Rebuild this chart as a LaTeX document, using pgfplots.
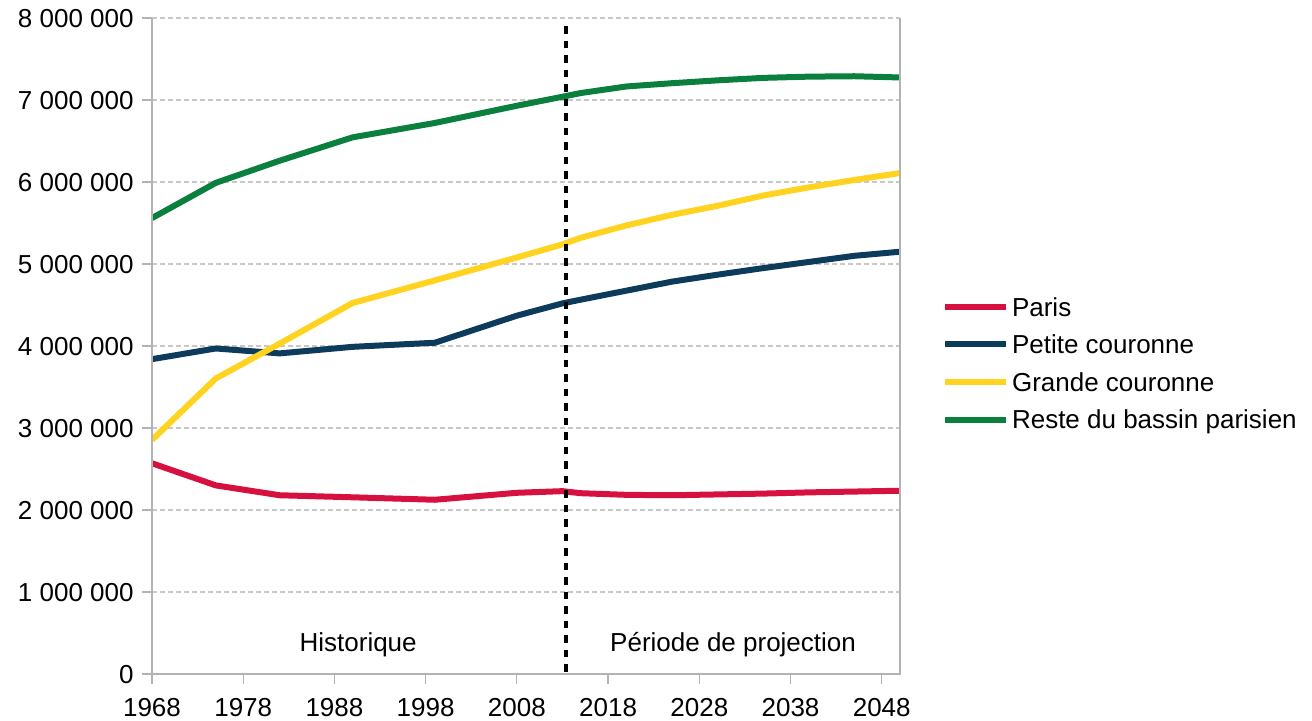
\documentclass[border=0pt]{standalone}
\usepackage{fontspec}
\setmainfont{Liberation Sans}
\usepackage{pgfplots}
\usepackage{pgfplotstable}
\pgfplotsset{compat=1.18}
\definecolor{cParis}{HTML}{D6113F}
\definecolor{cPetite}{HTML}{0D3B5C}
\definecolor{cGrande}{HTML}{FFD320}
\definecolor{cReste}{HTML}{0B7F3E}
\definecolor{cAxis}{HTML}{B3B3B3}
\definecolor{cGrid}{HTML}{C8C8C8}

\pgfplotstableread{
year value
1968 2570000
1975 2300000
1982 2180000
1990 2155000
1999 2125000
2008 2210000
2013 2230000
2015 2205000
2020 2185000
2025 2180000
2030 2190000
2035 2200000
2040 2215000
2045 2225000
2050 2235000
}\paris
\pgfplotstableread{
year value
1968 3840000
1975 3970000
1982 3910000
1990 3990000
1999 4040000
2008 4370000
2013 4520000
2015 4565000
2020 4675000
2025 4785000
2030 4870000
2035 4950000
2040 5025000
2045 5100000
2050 5150000
}\petite
\pgfplotstableread{
year value
1968 2855000
1975 3605000
1982 4030000
1990 4525000
1999 4800000
2008 5080000
2013 5240000
2015 5320000
2020 5470000
2025 5600000
2030 5710000
2035 5835000
2040 5935000
2045 6025000
2050 6110000
}\grande
\pgfplotstableread{
year value
1968 5560000
1975 5990000
1982 6260000
1990 6545000
1999 6720000
2008 6930000
2013 7040000
2015 7085000
2020 7165000
2025 7205000
2030 7240000
2035 7270000
2040 7285000
2045 7290000
2050 7275000
}\reste

\begin{document}
\fontsize{13}{15.6}\selectfont
\begin{tikzpicture}[font=\fontsize{13}{15.6}\selectfont]
\useasboundingbox (0,0) rectangle (656pt,360pt);
\begin{axis}[
  name=ax,
  at={(76pt,23pt)}, anchor=south west,
  scale only axis, width=374pt, height=328pt,
  xmin=1968, xmax=2050, ymin=0, ymax=8000000,
  xtick={1968,1978,1988,1998,2008,2018,2028,2038,2048},
  xticklabels={1968,1978,1988,1998,2008,2018,2028,2038,2048},
  ytick={0,1000000,2000000,3000000,4000000,5000000,6000000,7000000,8000000},
  yticklabels={0,1 000 000,2 000 000,3 000 000,4 000 000,5 000 000,6 000 000,7 000 000,8 000 000},
  scaled y ticks=false,
  axis line style={draw=none},
  tick align=outside, xtick pos=left, ytick pos=left,
  major tick length=5pt,
  tick style={draw=cAxis, line width=0.6pt},
  ymajorgrids,
  grid style={draw=cGrid, line width=0.6pt, dash pattern=on 2.3pt off 1.7pt},
  xticklabel style={anchor=north, inner sep=0pt, text height=9.3pt, text depth=0pt, yshift=-6.5pt},
  yticklabel style={anchor=east, inner sep=0pt, text height=9.3pt, text depth=0pt, xshift=-4pt},
  legend style={at={(axis description cs:1.0562,0.5741)}, anchor=north west,
    draw=none, fill=none, inner sep=0pt, outer sep=0pt, row sep=9.5pt,
    nodes={inner sep=0pt, text height=9.3pt, text depth=0pt},
    /tikz/every odd column/.style={column sep=1.7pt}},
  legend cell align=left,
  legend image code/.code={\draw[#1, line width=3pt] (0pt,0pt) -- (30.3pt,0pt);},
  every axis plot/.append style={line width=3pt, line join=round},
]
\addplot[cParis, no markers] table[x=year, y=value] {\paris};
\addlegendentry{Paris}
\addplot[cPetite, no markers] table[x=year, y=value] {\petite};
\addlegendentry{Petite couronne}
\addplot[cGrande, no markers] table[x=year, y=value] {\grande};
\addlegendentry{Grande couronne}
\addplot[cReste, no markers] table[x=year, y=value] {\reste};
\addlegendentry{Reste du bassin parisien}
\addplot[black, line width=1.7pt, dash pattern=on 3.75pt off 3.5pt, forget plot] coordinates {(2013.4,7900000) (2013.4,0)};
\node[anchor=base] at (axis cs:1990.6,280000) {Historique};
\node[anchor=base] at (axis cs:2031.7,280000) {Période de projection};
\end{axis}
\draw[cAxis, line width=0.6pt] (ax.north west) -- (ax.south west) -- (ax.south east) -- (ax.north east);
\end{tikzpicture}
\end{document}
